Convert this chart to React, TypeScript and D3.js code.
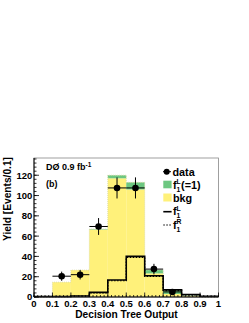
import React from "react";
import * as d3 from "d3";

const binEdges = [0, 0.1, 0.2, 0.3, 0.4, 0.5, 0.6, 0.7, 0.8, 0.9, 1.0];
const bkg = [0.8, 14.6, 26.5, 66.5, 117, 106, 23.3, 3, 1, 0.3];
const sig = [0, 0, 0, 0.5, 3, 7, 3.3, 3.5, 0.5, 0];
const f1L = [0.5, 0.5, 1, 4.6, 16.7, 40, 21, 7, 2.5, 0.7];
const f1R = [0.3, 0.3, 0.7, 4, 16, 39, 20.2, 6.3, 2, 0.4];
const dataX = [0.15, 0.25, 0.35, 0.45, 0.55, 0.65, 0.75];
const dataY = [20.5, 22, 69.5, 107.5, 107.5, 27.5, 5];
const dataErr = [4.5, 4.7, 8.3, 10.4, 10.4, 5.2, 2.2];
const xTicks = [0, 0.1, 0.2, 0.3, 0.4, 0.5, 0.6, 0.7, 0.8, 0.9, 1];
const xTickLabels = ["0", "0.1", "0.2", "0.3", "0.4", "0.5", "0.6", "0.7", "0.8", "0.9", "1"];
const yTicks = [0, 20, 40, 60, 80, 100, 120];

const YELLOW = "#fff17a";
const GREEN = "#6dc781";
const FONT = "'Liberation Sans', Arial, Helvetica, sans-serif";

export default function App() {
  const x = d3.scaleLinear().domain([0, 1]).range([34, 218.5]);
  const y = d3.scaleLinear().domain([0, 137]).range([297, 158]);
  const bins = d3.range(bkg.length);

  const stepPath = (vals: number[]) => {
    const pts: [number, number][] = [];
    bins.forEach((i) => {
      pts.push([x(binEdges[i]), y(vals[i])]);
      pts.push([x(binEdges[i + 1]), y(vals[i])]);
    });
    return d3.line()(pts) || "";
  };

  const xMinor = d3.range(0, 1.0001, 0.02);
  const yMinor = d3.range(0, 137, 4);

  return (
    <svg width={249} height={323} style={{ position: "absolute", left: 0, top: 0, background: "#fff" }}>
      {/* stacked bars */}
      {bins.map((i) => (
        <rect key={"b" + i} x={x(binEdges[i])} width={x(binEdges[i + 1]) - x(binEdges[i])}
          y={y(bkg[i])} height={y(0) - y(bkg[i])} fill={YELLOW} />
      ))}
      {bins.map((i) =>
        sig[i] > 0 ? (
          <rect key={"s" + i} x={x(binEdges[i])} width={x(binEdges[i + 1]) - x(binEdges[i])}
            y={y(bkg[i] + sig[i])} height={y(bkg[i]) - y(bkg[i] + sig[i])} fill={GREEN} />
        ) : null
      )}
      <path d={stepPath(bkg.map((v, i) => v + sig[i]))} fill="none" stroke="#d8d8a0" strokeWidth={0.8} strokeDasharray="1,1" />
      {/* f1 lines */}
      <path d={stepPath(f1L)} fill="none" stroke="#000" strokeWidth={1.6} />
      <path d={stepPath(f1R)} fill="none" stroke="#000" strokeWidth={1.2} strokeDasharray="1.5,1.5" />
      {/* data */}
      {dataX.map((dx, i) => (
        <g key={"d" + i}>
          <line x1={x(dx - 0.05)} x2={x(dx + 0.05)} y1={y(dataY[i])} y2={y(dataY[i])} stroke="#000" strokeWidth={1} />
          <line x1={x(dx)} x2={x(dx)} y1={y(dataY[i] - dataErr[i])} y2={y(dataY[i] + dataErr[i])} stroke="#000" strokeWidth={1} />
          <circle cx={x(dx)} cy={y(dataY[i])} r={3.3} fill="#000" />
        </g>
      ))}
      {/* frame */}
      <rect x={x(0)} y={y(137)} width={x(1) - x(0)} height={y(0) - y(137)} fill="none" stroke="#888" strokeWidth={0.8} />
      <line x1={x(0)} x2={x(1)} y1={y(0)} y2={y(0)} stroke="#000" strokeWidth={1} />
      <line x1={x(0)} x2={x(0)} y1={y(0)} y2={y(137)} stroke="#000" strokeWidth={1} />
      {/* x ticks */}
      {xMinor.map((t, i) => (
        <line key={"xm" + i} x1={x(t)} x2={x(t)} y1={y(0)} y2={y(0) - 2} stroke="#000" strokeWidth={0.8} />
      ))}
      {xTicks.map((t, i) => (
        <g key={"xt" + i}>
          <line x1={x(t)} x2={x(t)} y1={y(0)} y2={y(0) - 4.5} stroke="#000" strokeWidth={0.8} />
          <text x={x(t)} y={306.5} textAnchor="middle" fontFamily={FONT} fontWeight="bold" fontSize={9.5}>{xTickLabels[i]}</text>
        </g>
      ))}
      {/* y ticks */}
      {yMinor.map((t, i) => (
        <line key={"ym" + i} x1={x(0)} x2={x(0) + 2.5} y1={y(t)} y2={y(t)} stroke="#000" strokeWidth={0.8} />
      ))}
      {yTicks.map((t) => (
        <g key={"yt" + t}>
          <line x1={x(0)} x2={x(0) + 5} y1={y(t)} y2={y(t)} stroke="#000" strokeWidth={0.8} />
          <text x={32.3} y={y(t) + 3.4} textAnchor="end" fontFamily={FONT} fontWeight="bold" fontSize={9.5}>{t}</text>
        </g>
      ))}
      {/* axis titles */}
      <text x={126.5} y={318} textAnchor="middle" fontFamily={FONT} fontWeight="bold" fontSize={10.2}>Decision Tree Output</text>
      <text transform="translate(11,199) rotate(-90)" textAnchor="middle" fontFamily={FONT} fontWeight="bold" fontSize={10.2}>Yield [Events/0.1]</text>
      {/* annotations */}
      <text x={46} y={170} fontFamily={FONT} fontWeight="bold" fontSize={9}>DØ 0.9 fb<tspan dy={-3.5} fontSize={6.5}>-1</tspan></text>
      <text x={46} y={186.5} fontFamily={FONT} fontWeight="bold" fontSize={9}>(b)</text>
      {/* legend */}
      <g fontFamily={FONT} fontWeight="bold" fontSize={10.8}>
        <line x1={163} x2={171} y1={171.7} y2={171.7} stroke="#000" strokeWidth={1} />
        <circle cx={166.7} cy={171.7} r={3} fill="#000" />
        <text x={172.5} y={175.5}>data</text>
        <rect x={163.3} y={180.7} width={8.3} height={7.6} fill={GREEN} />
        <text x={173} y={188.5}>f<tspan dy={3} fontSize={6.8}>1</tspan><tspan dx={-3.8} dy={-7.3} fontSize={6.8}>L</tspan><tspan dy={4.3} dx={0.3}>(=1)</tspan></text>
        <rect x={163.3} y={193.5} width={8.3} height={8} fill={YELLOW} />
        <text x={173} y={201.8}>bkg</text>
        <line x1={163.3} x2={171.6} y1={211.7} y2={211.7} stroke="#000" strokeWidth={1.6} />
        <text x={173} y={215}>f<tspan dy={3} fontSize={6.8}>1</tspan><tspan dx={-3.8} dy={-7.3} fontSize={6.8}>L</tspan></text>
        <line x1={163.3} x2={171.6} y1={225} y2={225} stroke="#000" strokeWidth={1.2} strokeDasharray="1.5,1.5" />
        <text x={173} y={228.5}>f<tspan dy={3} fontSize={6.8}>1</tspan><tspan dx={-3.8} dy={-7.3} fontSize={6.8}>R</tspan></text>
      </g>
    </svg>
  );
}
